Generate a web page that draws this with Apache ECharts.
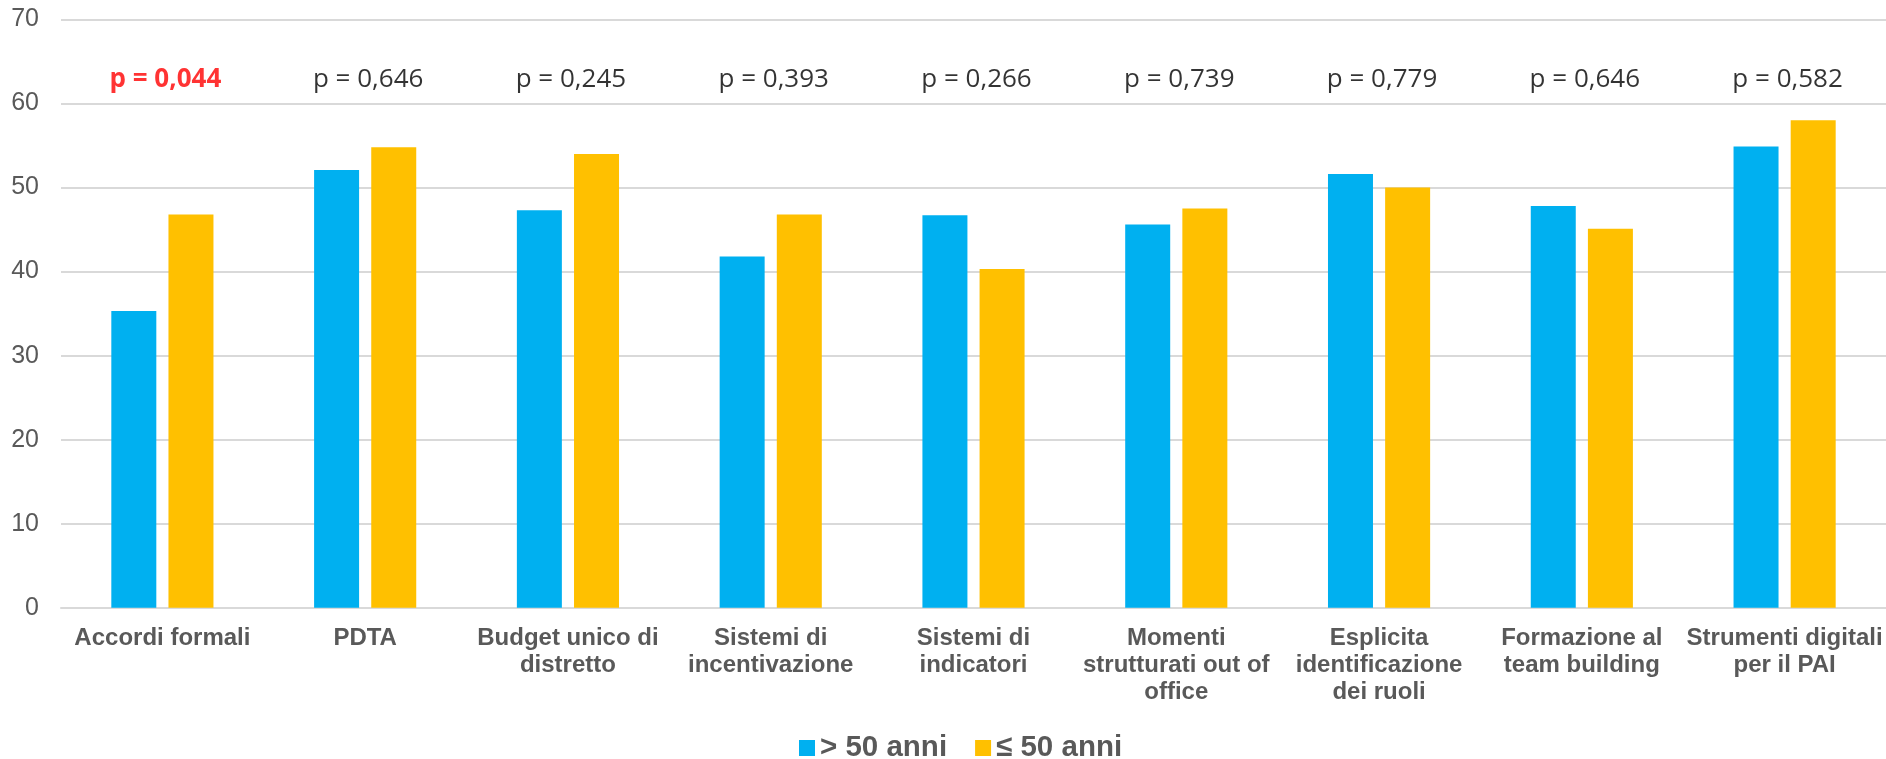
<!DOCTYPE html>
<html>
<head>
<meta charset="utf-8">
<script src="https://cdn.jsdelivr.net/npm/echarts@6/dist/echarts.min.js"></script>
<style>
  html, body { margin: 0; padding: 0; background: #fff; }
  #chart { width: 1886px; height: 759px; }
</style>
</head>
<body>
<div id="chart"></div>
<script>
const categories = [
  "Accordi formali",
  "PDTA",
  "Budget unico di\ndistretto",
  "Sistemi di\nincentivazione",
  "Sistemi di\nindicatori",
  "Momenti\nstrutturati out of\noffice",
  "Esplicita\nidentificazione\ndei ruoli",
  "Formazione al\nteam building",
  "Strumenti digitali\nper il PAI",
];
const over50 = [35.3, 52.1, 47.3, 41.8, 46.7, 45.6, 51.6, 47.8, 54.9];
const under50 = [46.8, 54.8, 54.0, 46.8, 40.3, 47.5, 50.0, 45.1, 58.0];
const pValues = ["0,044", "0,646", "0,245", "0,393", "0,266", "0,739", "0,779", "0,646", "0,582"];
const significant = [true, false, false, false, false, false, false, false, false];
// height at which the p labels sit (in axis units)
const pLabelLevel = 62.9;

const chart = echarts.init(document.getElementById("chart"));

const pData = pValues.map((p, i) => ({
  value: pLabelLevel,
  name: "p = " + p,
  label: significant[i]
    ? { color: "#FF0000", fontWeight: "bold" }
    : { color: "#000000", fontWeight: "normal" },
}));

chart.setOption({
  animation: false,
  grid: { left: 61, right: 0, top: 19.5, bottom: 151.3 },
  legend: {
    data: ["> 50 anni", "≤ 50 anni"],
    left: 794,
    top: 728,
    itemWidth: 16,
    itemHeight: 16,
    itemGap: 28,
    icon: "rect",
    textStyle: {
      fontFamily: "Liberation Sans",
      fontSize: 29.5,
      fontWeight: "bold",
      color: "#595959",
    },
  },
  xAxis: {
    type: "category",
    data: categories,
    axisTick: { show: false },
    axisLine: { lineStyle: { color: "#D9D9D9", width: 2 } },
    axisLabel: {
      interval: 0,
      margin: 17,
      fontFamily: "Liberation Sans",
      fontSize: 24,
      fontWeight: "bold",
      color: "#595959",
      lineHeight: 27,
    },
  },
  yAxis: {
    type: "value",
    min: 0,
    max: 70,
    interval: 10,
    axisLine: { show: false },
    axisTick: { show: false },
    splitLine: { lineStyle: { color: "#D9D9D9", width: 2 } },
    axisLabel: {
      margin: 22,
      fontFamily: "Liberation Sans",
      fontSize: 25,
      color: "#595959",
    },
  },
  series: [
    {
      name: "> 50 anni",
      type: "bar",
      data: over50,
      barWidth: 45,
      barGap: "27%",
      itemStyle: { color: "#00B0F0" },
    },
    {
      name: "≤ 50 anni",
      type: "bar",
      data: under50,
      barWidth: 45,
      itemStyle: { color: "#FFC000" },
    },
    {
      name: "p",
      type: "scatter",
      data: pData,
      symbolSize: 1,
      itemStyle: { color: "rgba(0,0,0,0)" },
      label: {
        show: true,
        position: "inside",
        offset: [3, 0],
        formatter: (d) => d.name,
        fontFamily: "Open Sans",
        fontSize: 26,
      },
      silent: true,
    },
  ],
});
</script>
</body>
</html>
